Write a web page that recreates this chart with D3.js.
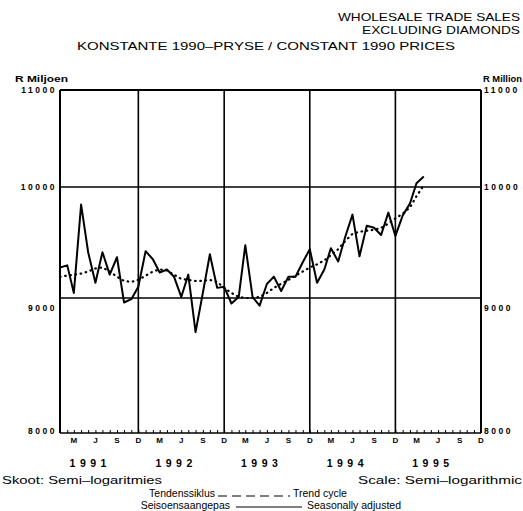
<!DOCTYPE html>
<html>
<head>
<meta charset="utf-8">
<script src="https://cdnjs.cloudflare.com/ajax/libs/d3/7.8.5/d3.min.js"></script>
<style>
  body { margin: 0; background: #fff; }
  svg { display: block; font-family: "Liberation Sans", Arial, sans-serif; }
</style>
</head>
<body>
<svg width="523" height="511"></svg>
<script>
// monthly values, Jan 1991 onwards (R million, constant 1990 prices)
const seasonal = [9265, 9283, 9043, 9835, 9400, 9131, 9400, 9202, 9355, 8965, 8991, 9096,
                  9409, 9337, 9220, 9247, 9184, 9009, 9202, 8736, 9043, 9382, 9087, 9096,
                  8957, 9009, 9463, 9009, 8940, 9120, 9184, 9060, 9184, 9184, 9310, 9427,
                  9131, 9247, 9436, 9318, 9536, 9741, 9364, 9639, 9620, 9555, 9760, 9546,
                  9732, 9845, 10037, 10104];
const trend = [9184, 9193, 9202, 9211, 9229, 9256, 9265, 9229, 9184, 9147, 9138, 9156,
               9193, 9229, 9247, 9238, 9202, 9165, 9156, 9147, 9147, 9156, 9138, 9087,
               9043, 9009, 9000, 9000, 9009, 9043, 9087, 9122, 9156, 9193, 9229, 9265,
               9292, 9328, 9373, 9427, 9500, 9565, 9584, 9593, 9602, 9620, 9658, 9706,
               9750, 9808, 9913, 10017];
const years = [1991, 1992, 1993, 1994, 1995];
const monthLetters = ['M', 'J', 'S', 'D'];
const monthNums = [2, 5, 8, 11];
const yTicks = [8000, 9000, 10000, 11000];

let plotL = 60, plotR = 481, plotT = 90, plotB = 433;

let svg = d3.select('svg');

let x = d3.scaleTime()
          .domain([new Date(1991, 0, 1), new Date(1995, 11, 1)])
          .range([plotL, plotR]);
// semi-log scale as printed (bottom band is a little stretched)
let y = d3.scaleLog()
          .domain([8000, 9000, 10000, 11000])
          .range([plotB, 298, 187, plotT]);

let date = i => new Date(1991, i, 1);

// frame + grid
svg.append('line').attr('x1', plotL).attr('x2', plotR).attr('y1', y(11000)).attr('y2', y(11000))
   .attr('stroke', '#000').attr('stroke-width', 1.8);
[9000, 10000].forEach(v => {
  svg.append('line').attr('x1', plotL).attr('x2', plotR).attr('y1', y(v)).attr('y2', y(v))
     .attr('stroke', '#000').attr('stroke-width', 1.6);
});
years.forEach(yr => {
  svg.append('line').attr('x1', x(new Date(yr, 11, 1))).attr('x2', x(new Date(yr, 11, 1)))
     .attr('y1', plotT).attr('y2', plotB)
     .attr('stroke', '#000').attr('stroke-width', 1.6);
});
svg.append('line').attr('x1', plotL).attr('x2', plotL).attr('y1', plotT).attr('y2', plotB)
   .attr('stroke', '#000').attr('stroke-width', 2);
svg.append('line').attr('x1', plotR).attr('x2', plotR).attr('y1', plotT).attr('y2', plotB)
   .attr('stroke', '#000').attr('stroke-width', 2);

// bottom axis with monthly ticks
let allMonths = d3.range(60).map(date);
let xAxis = d3.axisBottom(x).tickValues(allMonths).tickSize(-3).tickFormat('');
let gx = svg.append('g').attr('transform', `translate(0,${plotB})`).call(xAxis);
gx.select('.domain').attr('stroke-width', 1.5).attr('d', `M${plotL},0H${plotR}`);
gx.selectAll('.tick line').attr('stroke-width', 1);

let monthTicks = [];
years.forEach(yr => monthNums.forEach((m, k) => monthTicks.push({d: new Date(yr, m, 1), t: monthLetters[k]})));
svg.append('g').selectAll('text')
   .data(monthTicks).enter().append('text')
   .attr('x', d => x(d.d))
   .attr('y', plotB + 10)
   .attr('text-anchor', 'middle')
   .style('font-size', '8px').style('font-weight', 'bold')
   .text(d => d.t);

svg.append('g').selectAll('text')
   .data(years).enter().append('text')
   .attr('x', d => x(new Date(d, 4, 10)))
   .attr('y', 467)
   .attr('text-anchor', 'middle')
   .style('font-size', '10.5px').style('font-weight', 'bold').style('letter-spacing', '4.5px')
   .text(d => d);

// y axis labels both sides
let labelShift = {8000: -2, 9000: 10, 10000: 0, 11000: 0};
let yAxisL = d3.axisLeft(y).tickValues(yTicks).tickSize(0).tickPadding(2).tickFormat(d3.format('d'));
let gl = svg.append('g').attr('transform', `translate(${plotL - 1},0)`).call(yAxisL);
let yAxisR = d3.axisRight(y).tickValues(yTicks).tickSize(0).tickPadding(2).tickFormat(d3.format('d'));
let gr = svg.append('g').attr('transform', `translate(${plotR + 1},0)`).call(yAxisR);
[gl, gr].forEach(g => {
  g.select('.domain').remove();
  g.selectAll('text').style('font-size', '8.5px').style('font-weight', 'bold')
   .style('letter-spacing', '2.5px').style('font-family', '"Liberation Sans", Arial, sans-serif')
   .attr('y', d => labelShift[d]);
});

svg.append('text').attr('x', 15).attr('y', 82).attr('textLength', 53).attr('lengthAdjust', 'spacingAndGlyphs')
   .style('font-size', '9px').style('font-weight', 'bold').text('R Miljoen');
svg.append('text').attr('x', 483).attr('y', 82).attr('textLength', 39).attr('lengthAdjust', 'spacingAndGlyphs')
   .style('font-size', '9px').style('font-weight', 'bold').text('R Million');

// series
let line = d3.line().x((d, i) => x(date(i))).y(d => y(d));

svg.append('path').datum(trend)
   .attr('fill', 'none').attr('stroke', '#000').attr('stroke-width', 2.2)
   .attr('stroke-linecap', 'round')
   .attr('stroke-dasharray', '0.6,4.6')
   .attr('d', line);

svg.append('path').datum(seasonal)
   .attr('fill', 'none').attr('stroke', '#000').attr('stroke-width', 2)
   .attr('stroke-linejoin', 'round')
   .attr('d', line);

// titles
svg.append('text').attr('x', 520).attr('y', 21).attr('text-anchor', 'end')
   .attr('textLength', 182).attr('lengthAdjust', 'spacingAndGlyphs')
   .style('font-size', '11.5px').text('WHOLESALE TRADE SALES');
svg.append('text').attr('x', 520).attr('y', 34).attr('text-anchor', 'end')
   .attr('textLength', 158).attr('lengthAdjust', 'spacingAndGlyphs')
   .style('font-size', '11.5px').text('EXCLUDING DIAMONDS');
svg.append('text').attr('x', 77).attr('y', 50)
   .attr('textLength', 378).attr('lengthAdjust', 'spacingAndGlyphs')
   .style('font-size', '11.5px').text('KONSTANTE 1990–PRYSE / CONSTANT 1990 PRICES');

// footer
let foot = (tx, fx, fy, anchor) => svg.append('text')
   .attr('x', fx).attr('y', fy).attr('text-anchor', anchor || 'start')
   .style('font-size', '10.5px').text(tx);
foot('Skoot: Semi–logaritmies', 2, 484).attr('textLength', 160).attr('lengthAdjust', 'spacingAndGlyphs');
foot('Scale: Semi–logarithmic', 522, 484, 'end').attr('textLength', 164).attr('lengthAdjust', 'spacingAndGlyphs');
foot('Tendenssiklus', 215, 497, 'end');
svg.append('line').attr('x1', 218).attr('x2', 290).attr('y1', 496).attr('y2', 496)
   .attr('stroke', '#000').attr('stroke-width', 1.2).attr('stroke-dasharray', '9,5');
foot('Trend cycle', 293, 497);
foot('Seisoensaangepas', 230, 509, 'end');
svg.append('line').attr('x1', 236).attr('x2', 302).attr('y1', 507).attr('y2', 507)
   .attr('stroke', '#000').attr('stroke-width', 1.2);
foot('Seasonally adjusted', 307, 509);
</script>
</body>
</html>
